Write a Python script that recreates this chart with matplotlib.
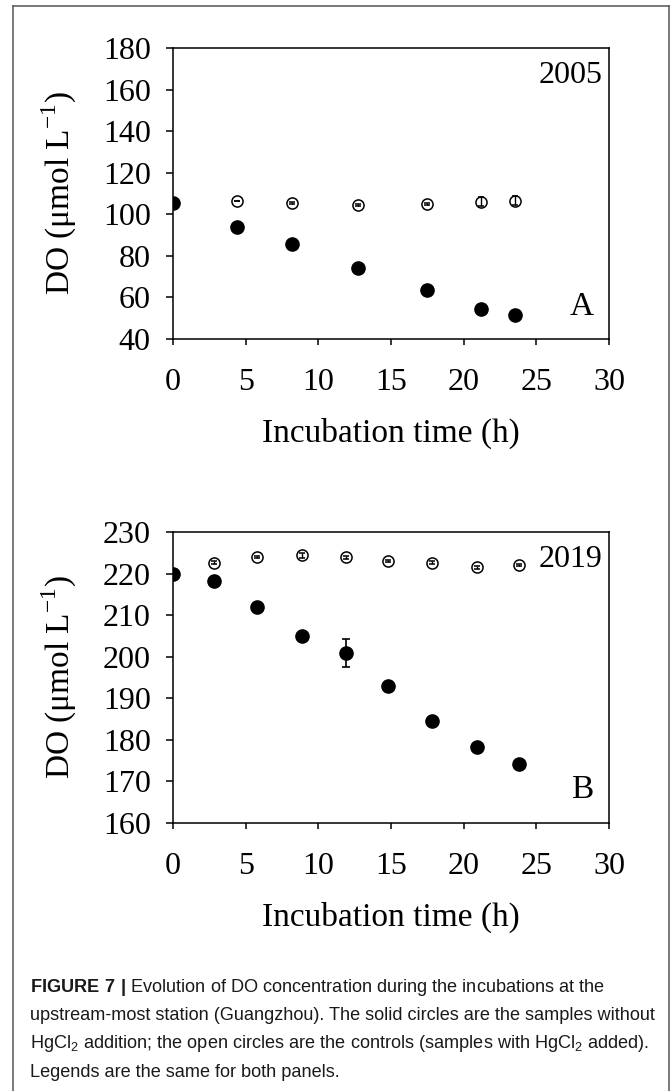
import matplotlib
matplotlib.use("Agg")
import matplotlib.pyplot as plt
from matplotlib.lines import Line2D

plt.rcParams["font.family"] = "Liberation Serif"
plt.rcParams["mathtext.fontset"] = "custom"
plt.rcParams["mathtext.rm"] = "Liberation Serif"
plt.rcParams["mathtext.sf"] = "Liberation Sans"
plt.rcParams["mathtext.bf"] = "Liberation Sans:bold"

# panel A (2005)
a_time_solid = [0, 4.4, 8.2, 12.7, 17.5, 21.2, 23.5]
a_do_solid = [105.5, 94, 85.5, 74, 63.5, 54.5, 51.5]
a_err_solid = [0.5, 0.5, 0.5, 0.5, 0.5, 0.5, 0.5]
a_time_ctrl = [4.4, 8.2, 12.7, 17.5, 21.2, 23.5]
a_do_ctrl = [106.5, 105.5, 104.5, 105, 106, 106.5]
a_err_ctrl = [0.0, 0.4, 0.4, 0.4, 2.2, 2.2]

# panel B (2019)
b_time_solid = [0, 2.8, 5.8, 8.9, 11.9, 14.8, 17.8, 20.9, 23.8]
b_do_solid = [220, 218.3, 212, 205, 200.8, 193, 184.6, 178.3, 174.3]
b_err_solid = [0.3, 0.3, 0.3, 0.3, 3.4, 0.3, 0.3, 0.3, 0.3]
b_time_ctrl = [2.8, 5.8, 8.9, 11.9, 14.8, 17.8, 20.9, 23.8]
b_do_ctrl = [222.6, 224, 224.4, 223.9, 223, 222.6, 221.5, 222.1]
b_err_ctrl = [0.3, 0.3, 0.6, 0.4, 0.3, 0.3, 0.4, 0.3]

x_ticks = [0, 5, 10, 15, 20, 25, 30]
a_yticks = [40, 60, 80, 100, 120, 140, 160, 180]
b_yticks = [160, 170, 180, 190, 200, 210, 220, 230]

caption_lines = [
    r"$\mathbf{FIGURE\ 7\ |}$ Evolution of DO concentration during the incubations at the",
    "upstream-most station (Guangzhou). The solid circles are the samples without",
    r"HgCl$_\mathsf{2}$ addition; the open circles are the controls (samples with HgCl$_\mathsf{2}$ added).",
    "Legends are the same for both panels.",
]


def draw_panel(ax, t_s, y_s, e_s, t_c, y_c, e_c, yticks, year, letter):
    ax.errorbar(t_s, y_s, yerr=e_s, fmt="o", color="black", ms=9.5,
                mfc="black", mec="black", capsize=3, elinewidth=1.2, capthick=1.2)
    ax.errorbar(t_c, y_c, yerr=e_c, fmt="o", color="black", ms=8,
                mfc="none", mec="black", mew=1.1, capsize=2.5, elinewidth=1, capthick=1)
    ax.set_xlim(0, 30)
    ax.set_ylim(yticks[0], yticks[-1])
    ax.set_xticks(x_ticks)
    ax.set_yticks(yticks)
    for s in ax.spines.values():
        s.set_linewidth(1.1)
    ax.tick_params(axis="y", direction="out", length=5, width=1.1, labelsize=23, pad=11)
    ax.tick_params(axis="x", direction="out", length=4, width=1.1, labelsize=23, pad=17)
    ax.set_xlabel("Incubation time (h)", fontsize=24)
    ax.set_ylabel(r"DO (μmol L$^{-1}$)", fontsize=24)
    ax.xaxis.set_label_coords(0.5, -0.27)
    ax.yaxis.set_label_coords(-0.215, 0.5)
    ax.text(0.985, 0.955, year, transform=ax.transAxes, ha="right", va="top", fontsize=23)
    ax.text(0.965, 0.06, letter, transform=ax.transAxes, ha="right", va="bottom", fontsize=24)


fig = plt.figure(figsize=(6.72, 10.91), dpi=100)
ax_a = fig.add_axes([0.2574, 0.6893, 0.6488, 0.2667])
ax_b = fig.add_axes([0.2574, 0.2457, 0.6488, 0.2667])

draw_panel(ax_a, a_time_solid, a_do_solid, a_err_solid,
           a_time_ctrl, a_do_ctrl, a_err_ctrl, a_yticks, "2005", "A")
draw_panel(ax_b, b_time_solid, b_do_solid, b_err_solid,
           b_time_ctrl, b_do_ctrl, b_err_ctrl, b_yticks, "2019", "B")

# outer frame (open at the bottom)
x0, x1, ytop = 13 / 672, 669 / 672, 1 - 6 / 1091
frame = dict(color="#555555", lw=1.1, transform=fig.transFigure)
fig.add_artist(Line2D([x0, x0], [0, ytop], **frame))
fig.add_artist(Line2D([x1, x1], [0, ytop], **frame))
fig.add_artist(Line2D([x0, x1], [ytop, ytop], **frame))

for i, line in enumerate(caption_lines):
    fig.text(30 / 672, 1 - (987 + 28.5 * i) / 1091, line, family="Liberation Sans",
             fontsize=13.1, color="#1a1a1a", va="center", ha="left")

fig.savefig("out.png", dpi=100)
